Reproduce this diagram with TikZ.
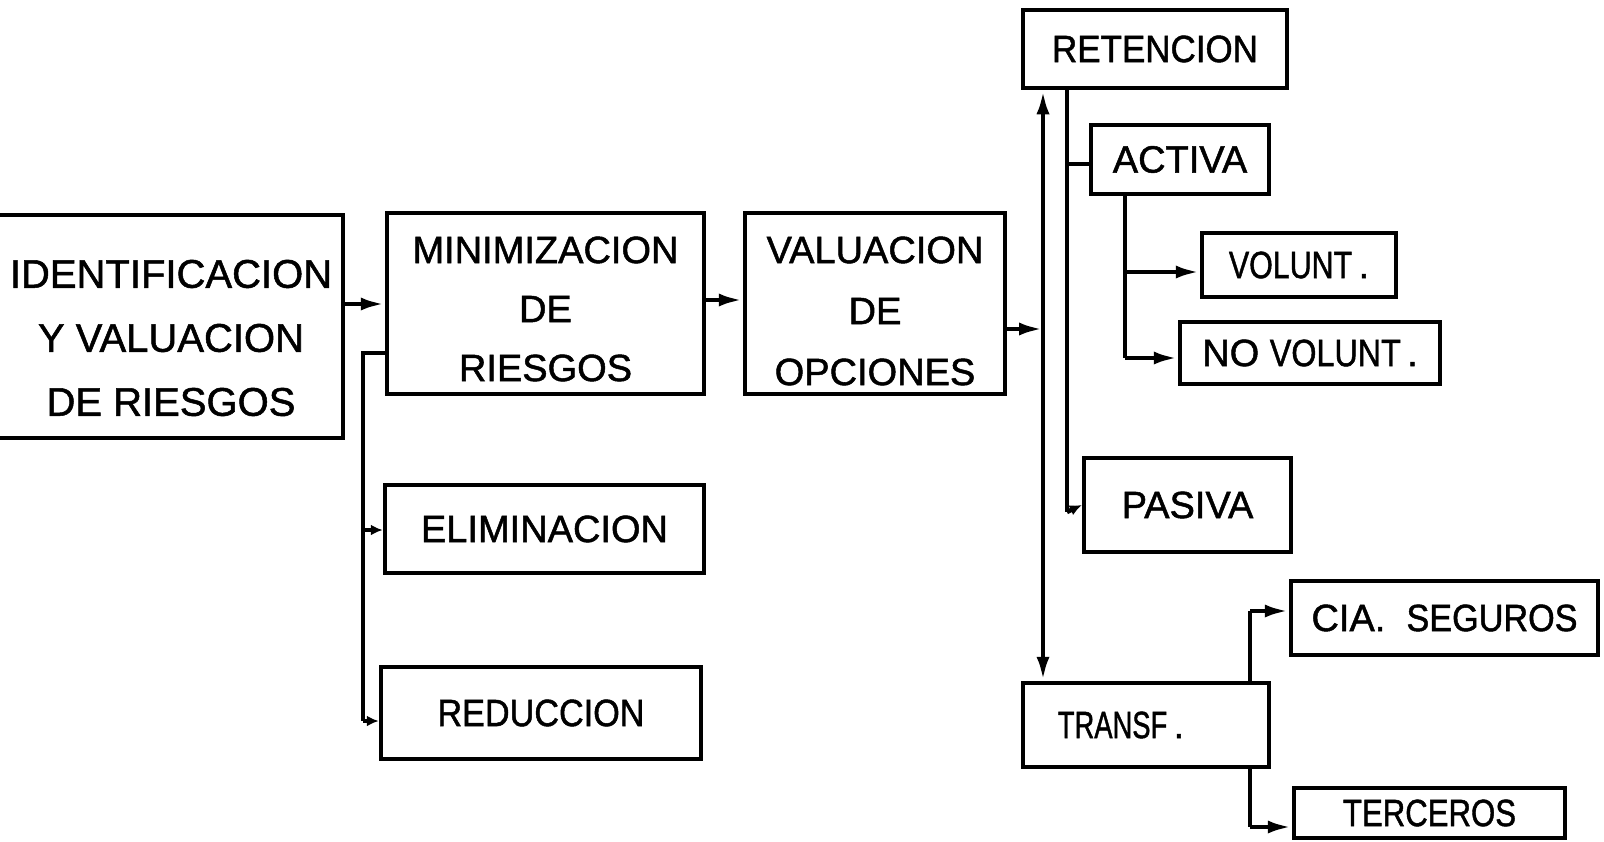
\documentclass[tikz,border=0pt]{standalone}
\usepackage{fontspec}
\setmainfont{Liberation Sans}[FakeBold=1.3]
\usetikzlibrary{arrows.meta,calc}
\begin{document}
\begin{tikzpicture}[x=1pt,y=-1pt,
  box/.style={draw,line width=4.5pt,rectangle,inner sep=0pt,align=center,font=\fontsize{38}{60}\selectfont},
  lbl/.style={inner sep=0pt,align=center,font=\fontsize{38}{59}\selectfont},
  conn/.style={line width=4.5pt},
  arr/.style={line width=4.5pt,-{Latex[length=24pt,width=13pt]}},
  sarr/.style={line width=4.5pt,-{Latex[length=12pt,width=11pt]}},
  darr/.style={line width=4.5pt,{Latex[length=24pt,width=13pt]}-{Latex[length=24pt,width=13pt]}},
  ]
\useasboundingbox (0,0) rectangle (1604,841);
\fill[white] (0,0) rectangle (1604,841);
% boxes
\node[box,minimum width=348pt,minimum height=223pt] (ident) at (169,326.5) {};
\node[lbl,font=\fontsize{40}{64}\selectfont] (identT) at (171,338) {IDENTIFICACION\\Y VALUACION\\DE RIESGOS};
\node[box,minimum width=317pt,minimum height=181pt] (min) at (545.5,303.5) {};
\node[lbl] (minT) at (545.5,309) {MINIMIZACION\\DE\\RIESGOS};
\node[box,minimum width=260pt,minimum height=181pt] (val) at (875,303.5) {};
\node[lbl,font=\fontsize{38}{61}\selectfont] (valT) at (875,311) {VALUACION\\DE\\OPCIONES};
\node[box,minimum width=319pt,minimum height=88pt] (elim) at (544.5,529) {ELIMINACION};
\node[box,minimum width=320pt,minimum height=92pt] (reduc) at (541,713) {\scalebox{0.9}[1]{REDUCCION}};
\node[box,minimum width=264pt,minimum height=78pt] (ret) at (1155,49) {\raisebox{-4pt}{\scalebox{0.92}[1]{RETENCION}}};
\node[box,minimum width=178pt,minimum height=69pt] (activa) at (1180,159.5) {ACTIVA};
\node[box,minimum width=194pt,minimum height=64pt] (volunt) at (1299,265) {\scalebox{0.8}[1]{VOLUNT}\,.};
\node[box,minimum width=260pt,minimum height=62pt] (novol) at (1310,353) {NO \scalebox{0.85}[1]{VOLUNT}\,.};
\node[box,minimum width=207pt,minimum height=94pt] (pasiva) at (1187.5,505) {PASIVA};
\node[box,minimum width=246pt,minimum height=84pt] (transf) at (1146,725) {\scalebox{0.72}[1]{TRANSF}\,.\hspace*{50pt}};
\node[box,minimum width=307pt,minimum height=74pt] (cia) at (1444.5,618) {CIA.\ \ \scalebox{0.9}[1]{SEGUROS}};
\node[box,minimum width=271pt,minimum height=50pt] (terc) at (1429.5,813) {\scalebox{0.82}[1]{TERCEROS}};
% helper coordinates
\coordinate (c1) at (0,304);
\coordinate (c2) at (0,300);
\coordinate (m1) at (363,353);
\coordinate (m2) at (363,530);
\coordinate (m3) at (363,721);
\coordinate (v1) at (1043,329);
\coordinate (vx) at (1043,0);
\coordinate (w1) at (1067,512);
\coordinate (w2) at (1067,164);
\coordinate (a1) at (1125,0);
\coordinate (a2) at (1125,272);
\coordinate (a3) at (1125,358);
\coordinate (t1) at (1250,611);
\coordinate (t2) at (1250,827);
% connectors
\draw[arr] (c1 -| ident.east) -- (c1 -| min.west);
\draw[conn] (m1 -| min.west) -- (m1) -- (m3);
\draw[sarr] (m2) -- (m2 -| elim.west);
\draw[sarr] (m3) -- (m3 -| reduc.west);
\draw[arr] (c2 -| min.east) -- (c2 -| val.west);
\draw[arr] (v1 -| val.east) -- (v1);
\draw[darr] (vx |- ret.south) -- (vx |- transf.north);
\draw[conn] (w1 |- ret.south) -- (w1);
\draw[conn] (w2) -- (w2 -| activa.west);
\draw[sarr] (w1) -- (pasiva.west);
\draw[conn] (a1 |- activa.south) -- (a3);
\draw[arr] (a2) -- (a2 -| volunt.west);
\draw[arr] (a3) -- (a3 -| novol.west);
\draw[conn] (t1 |- transf.north) -- (t1);
\draw[arr] (t1) -- (t1 -| cia.west);
\draw[conn] (t2 |- transf.south) -- (t2);
\draw[arr] (t2) -- (t2 -| terc.west);
\end{tikzpicture}
\end{document}
